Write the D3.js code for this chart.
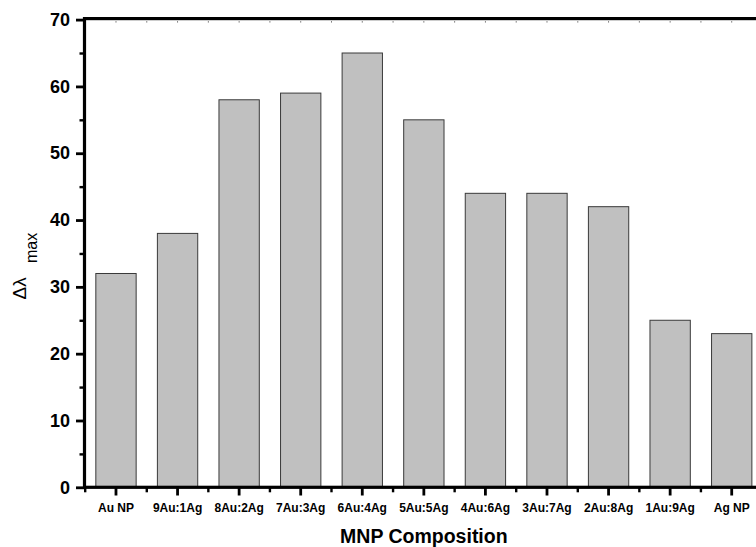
<!DOCTYPE html>
<html>
<head>
<meta charset="utf-8">
<script src="https://cdn.jsdelivr.net/npm/d3@7"></script>
<style>
  html, body { margin: 0; padding: 0; background: #fff; }
  svg { display: block; font-family: "Liberation Sans", Arial, sans-serif; }
</style>
</head>
<body>
<svg id="chart" width="756" height="547"></svg>
<script>
// Peak shift of the plasmon band for each nanoparticle composition
const categories = ["Au NP", "9Au:1Ag", "8Au:2Ag", "7Au:3Ag", "6Au:4Ag", "5Au:5Ag",
                    "4Au:6Ag", "3Au:7Ag", "2Au:8Ag", "1Au:9Ag", "Ag NP"];
const shiftValues = [32, 38, 58, 59, 65, 55, 44, 44, 42, 25, 23];
const yMajorTicks = [0, 10, 20, 30, 40, 50, 60, 70];
const yMinorTicks = [5, 15, 25, 35, 45, 55, 65];

const svg = d3.select("#chart");

const plotLeft = 85.2, plotRight = 762.5, plotTop = 19.6, plotBottom = 487.3;

const x = d3.scaleBand()
  .domain(categories)
  .range([plotLeft, plotRight])
  .paddingInner(0.345)
  .paddingOuter(0.1725);

const y = d3.scaleLinear().domain([0, 70]).range([plotBottom, plotTop]);

const centers = categories.map(c => x(c) + x.bandwidth() / 2);
const boundaries = categories.map(c => x(c) + x.bandwidth() / 2 - x.step() / 2)
  .concat([x(categories[categories.length - 1]) + x.bandwidth() / 2 + x.step() / 2]);

// bars
svg.append("g").selectAll("rect")
  .data(categories)
  .join("rect")
  .attr("x", c => x(c))
  .attr("width", x.bandwidth())
  .attr("y", (c, i) => y(shiftValues[i]))
  .attr("height", (c, i) => y(0) - y(shiftValues[i]))
  .attr("fill", "#c0c0c0")
  .attr("stroke", "#3a3a3a")
  .attr("stroke-width", 1);

// small inward ticks along the top edge
svg.append("g").selectAll("line")
  .data(centers.concat(boundaries))
  .join("line")
  .attr("x1", d => d).attr("x2", d => d)
  .attr("y1", plotTop + 1.5).attr("y2", plotTop + 3)
  .attr("stroke", "#777").attr("stroke-width", 1);

// left axis: major ticks with labels
const yAxis = svg.append("g")
  .attr("transform", `translate(${plotLeft - 0.7},0)`)
  .call(d3.axisLeft(y).tickValues(yMajorTicks).tickSize(8.5).tickPadding(6).tickSizeOuter(0));
yAxis.select(".domain").remove();
yAxis.selectAll(".tick line").attr("stroke", "#000").attr("stroke-width", 2.8);
yAxis.selectAll(".tick text")
  .attr("font-size", 18).attr("font-weight", "bold").attr("fill", "#000")
  .attr("font-family", "Liberation Sans, Arial, sans-serif");

// left axis: minor ticks
const yMinor = svg.append("g")
  .attr("transform", `translate(${plotLeft - 0.7},0)`)
  .call(d3.axisLeft(y).tickValues(yMinorTicks).tickSize(5).tickFormat(""));
yMinor.select(".domain").remove();
yMinor.selectAll(".tick line").attr("stroke", "#000").attr("stroke-width", 2.4);

// bottom axis: major ticks at category centres
const xAxis = svg.append("g")
  .attr("transform", `translate(0,${plotBottom})`)
  .call(d3.axisBottom(x).tickSize(8.2).tickSizeOuter(0));
xAxis.select(".domain").remove();
xAxis.selectAll(".tick line").attr("stroke", "#000").attr("stroke-width", 2.8);
xAxis.selectAll(".tick text")
  .attr("y", 25).attr("dy", 0)
  .attr("font-size", 12).attr("font-weight", "bold").attr("fill", "#000")
  .attr("font-family", "Liberation Sans, Arial, sans-serif");

// bottom axis: minor ticks between categories
svg.append("g").selectAll("line")
  .data(boundaries)
  .join("line")
  .attr("x1", d => d).attr("x2", d => d)
  .attr("y1", plotBottom).attr("y2", plotBottom + 5)
  .attr("stroke", "#000").attr("stroke-width", 2.4);

// frame
svg.append("rect")
  .attr("x", plotLeft - 0.7).attr("y", plotTop - 1)
  .attr("width", plotRight - plotLeft + 0.7).attr("height", plotBottom - plotTop + 1)
  .attr("fill", "none").attr("stroke", "#000").attr("stroke-width", 3.2);

// axis titles
svg.append("text")
  .attr("x", (plotLeft + plotRight) / 2).attr("y", 543)
  .attr("text-anchor", "middle")
  .attr("font-size", 19.5).attr("font-weight", "bold")
  .text("MNP Composition");

const yTitle = svg.append("text")
  .attr("transform", "translate(25.7,299.5) rotate(-90)")
  .attr("font-size", 19);
yTitle.append("tspan").attr("x", 0).attr("y", 0).text("Δλ");
yTitle.append("tspan").attr("x", 36.5).attr("y", 11).attr("font-size", 16).text("max");
</script>
</body>
</html>
